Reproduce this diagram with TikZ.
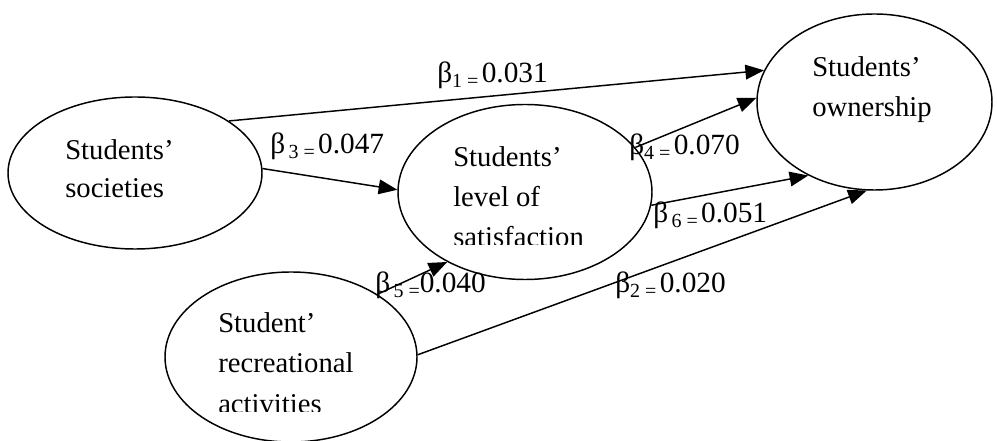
\documentclass[tikz,border=0pt]{standalone}
\usepackage{fontspec}
\setmainfont{Liberation Serif}
\usetikzlibrary{shapes.geometric,arrows.meta}
\newcommand\bsub[1]{\raisebox{-0.35ex}{\fontsize{15pt}{15pt}\selectfont #1}}
\begin{document}
\begin{tikzpicture}[x=0.75pt,y=-0.75pt,
  oval/.style={draw,ellipse,line width=1.1pt,inner sep=0pt},
  txt/.style={anchor=base west,inner sep=0pt,font=\fontsize{21.5pt}{26pt}\selectfont},
  lbl/.style={anchor=base west,inner sep=0pt,font=\fontsize{22pt}{26pt}\selectfont},
  conn/.style={line width=1.1pt,-{Triangle[length=14pt,width=11pt]}}]
\useasboundingbox (0,0) rectangle (997,441);
% ellipses
\node[oval,minimum width=190.5pt,minimum height=114pt] (L) at (135,173) {};
\node[oval,minimum width=190.5pt,minimum height=131.25pt] (M) at (525,192) {};
\node[oval,minimum width=176.25pt,minimum height=132pt] (R) at (874.5,102) {};
\node[oval,minimum width=189pt,minimum height=127.5pt] (B) at (291,357) {};
% texts
\node[txt] (l1) at (65,160) {Students’};
\node[txt] (l2) at (65,198) {societies};
\node[txt] (r1) at (812,77) {Students’};
\node[txt] (r2) at (812,117) {ownership};
\node[txt] (m1) at (453,167) {Students’};
\node[txt] (m2) at (453,207) {level of};
\begin{scope}
\clip (400,215) rectangle (650,244.5);
\node[txt] (m3) at (453,247) {satisfaction};
\end{scope}
\node[txt] (b1) at (218,333) {Student’};
\node[txt] (b2) at (218,373) {recreational};
\begin{scope}
\clip (200,380) rectangle (420,411.5);
\node[txt] (b3) at (218,414) {activities};
\end{scope}
% connectors
\draw[conn] (L.29) -- (R.164.9);
\draw[conn] (L.2.7) -- (M.179);
\draw[conn] (M.22.4) -- (R.178);
\draw[conn] (M.-6.4) -- (R.228.5);
\draw[conn] (B.36.7) -- (M.222);
\draw[conn] (B.1.8) -- (R.265.8);
% labels
\node[lbl] (k1) at (437,83) {β\bsub{1 =\,}0.031};
\node[lbl] (k3) at (270,154) {β\bsub{\,3 =\,}0.047};
\node[lbl] (k4) at (629,155) {β\bsub{4 =\,}0.070};
\node[lbl] (k6) at (653,223) {β\bsub{\,6 =\,}0.051};
\node[lbl] (k5) at (375,293) {β\bsub{\,5 =}0.040};
\node[lbl] (k2) at (615,293) {β\bsub{2 =\,}0.020};
\end{tikzpicture}
\end{document}
